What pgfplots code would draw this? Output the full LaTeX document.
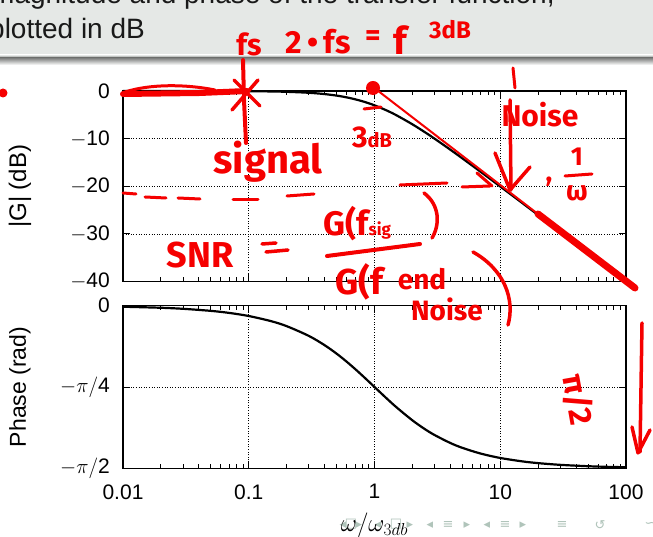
\documentclass[border=0pt]{standalone}
\usepackage{fontspec}
\setmainfont{Liberation Sans}
\newfontfamily\hand{Fira Sans}
\newfontfamily\sym{DejaVu Sans}
\usepackage{pgfplots}
\usepackage{pgfplotstable}
\pgfplotsset{compat=1.18}
\definecolor{hdr}{RGB}{229,232,230}
\definecolor{nav}{RGB}{176,196,186}
\definecolor{ink}{RGB}{245,0,0}
\newcommand{\hf}[1]{\hand\bfseries\fontsize{#1}{#1}\selectfont}

\pgfplotstableread{
x y
0.01 -0.0004
0.02 -0.0017
0.05 -0.0108
0.1 -0.0432
0.15 -0.0967
0.2 -0.1703
0.3 -0.374
0.4 -0.645
0.5 -0.969
0.6 -1.335
0.7 -1.734
0.8 -2.148
0.9 -2.577
1 -3.010
1.25 -4.087
1.5 -5.119
2 -6.990
2.5 -8.603
3 -10.000
4 -12.304
5 -14.150
7 -16.990
10 -20.043
15 -23.541
20 -26.031
30 -29.547
50 -33.981
70 -36.903
100 -40.000
}\magtable

\pgfplotstableread{
x y
0.01 -0.0100
0.02 -0.0200
0.03 -0.0300
0.05 -0.0500
0.07 -0.0699
0.1 -0.0997
0.15 -0.1489
0.2 -0.1974
0.3 -0.2915
0.4 -0.3805
0.5 -0.4636
0.6 -0.5404
0.7 -0.6107
0.8 -0.6747
0.9 -0.7328
1 -0.7854
1.25 -0.8961
1.5 -0.9828
2 -1.1071
2.5 -1.1903
3 -1.2490
4 -1.3258
5 -1.3734
7 -1.4289
10 -1.4711
15 -1.5042
20 -1.5208
30 -1.5375
50 -1.5508
70 -1.5565
100 -1.5608
}\phasetable

\begin{document}
\begin{tikzpicture}[x=1pt,y=1pt]
\path[use as bounding box] (0,0) rectangle (653,537);
\clip (0,0) rectangle (653,537);
\fill[white] (0,0) rectangle (653,537);
\fill[hdr] (0,482) rectangle (653,537);
\shade[top color=hdr, bottom color=hdr!55!black] (0,479) rectangle (653,482);
\shade[top color=hdr!55!black, bottom color=white] (0,472) rectangle (653,479);
\node[anchor=base west, inner sep=0, font=\fontsize{28}{28}\selectfont, text=black!90] at (-9,533) {magnitude and phase of the transfer function,};
\node[anchor=base west, inner sep=0, font=\fontsize{28}{28}\selectfont, text=black!90] at (-11,498) {plotted in dB};

% navigation symbols
\begin{scope}[nav, font=\sym\fontsize{13}{13}\selectfont]
\node at (343,12) {◂}; \node at (351,13) {□}; \node at (359,12) {▸};
\node at (378,12) {◂}; \node at (396,13) {□}; \node at (410,12) {▸};
\node at (430,12) {◂}; \node at (448,12) {≡}; \node at (467,12) {▸};
\node at (487,12) {◂}; \node at (505,12) {≡}; \node at (523,12) {▸};
\node at (562,12) {≡}; \node at (600,12) {↺}; \node at (650,12) {∽};
\end{scope}

\begin{axis}[xmode=log, xmin=0.01, xmax=100,
  scale only axis, width=503pt, height=190.5pt, anchor=south west,
  at={(123pt,255.5pt)},
  xtick={0.01,0.1,1,10,100}, xticklabels={},
  ymin=-40, ymax=0, ytick={-40,-30,-20,-10,0},
  yticklabels={$-$40,$-$30,$-$20,$-$10,0},
  grid=major,
  grid style={black, line width=0.5pt, dash pattern=on 1pt off 1.6pt},
  axis line style={line width=1.3pt},
  tick style={black, line width=0.8pt},
  major tick length=7pt, minor tick length=4pt,
  tick align=inside,
  tick label style={font=\fontsize{21}{21}\selectfont, inner sep=0pt},
  y tick label style={anchor=east, xshift=-13pt},
  ylabel={|G| (dB)},
  every axis y label/.style={at={(axis description cs:-0.2048,0.5)}, rotate=90, anchor=center, font=\fontsize{24}{24}\selectfont},
  clip=false]
\addplot[black, line width=2.2pt, smooth] table[x=x,y=y] {\magtable};
\addplot[ink, line width=2pt] coordinates {(1,0.6) (113.7,-41.2)};
\end{axis}

\begin{axis}[xmode=log, xmin=0.01, xmax=100,
  scale only axis, width=503pt, height=162.6pt, anchor=south west,
  at={(123pt,68.7pt)},
  xtick={0.01,0.1,1,10,100}, xticklabels={0.01,0.1,1,10,100},
  ymin=-1.5708, ymax=0, ytick={-1.5708,-0.7854,0},
  yticklabels={$-\pi/$2,$-\pi/$4,0},
  grid=major,
  grid style={black, line width=0.5pt, dash pattern=on 1pt off 1.6pt},
  axis line style={line width=1.3pt},
  tick style={black, line width=0.8pt},
  major tick length=7pt, minor tick length=4pt,
  tick align=inside,
  tick label style={font=\fontsize{21}{21}\selectfont, inner sep=0pt},
  y tick label style={anchor=east, xshift=-13pt},
  x tick label style={anchor=north, yshift=-16pt},
  ylabel={Phase (rad)},
  every axis y label/.style={at={(axis description cs:-0.2048,0.5)}, rotate=90, anchor=center, font=\fontsize{23}{23}\selectfont},
  xlabel={$\omega/\omega_{3db}$},
  every axis x label/.style={at={(axis description cs:0.5,0)}, anchor=base, yshift=-63.7pt, font=\fontsize{23}{23}\selectfont}]
\addplot[black, line width=2.2pt, smooth] table[x=x,y=y] {\phasetable};
\end{axis}

% handwritten annotations (pixel space)
\begin{scope}[yshift=537pt, yscale=-1, ink, line cap=round, line join=round]
\fill (3,93) circle (4.5);
\draw[line width=6] (123,94) -- (200,93) -- (247,91);
\draw[line width=3] (125,92) .. controls (150,84) and (185,84) .. (215,90);
\node[font=\hf{30}] at (249,44) {fs};
\draw[line width=4] (243,60) -- (244,100) -- (246,143);
\draw[line width=3.5] (234,80) -- (260,106);
\draw[line width=3.5] (258,80) -- (232,110);
\node[font=\hf{32}] at (318,42) {2\,\textbullet\,fs};
\node[font=\hf{30}] at (373,38) {=};
\node[font=\hf{38}] at (400,40) {f};
\node[font=\hf{24}] at (450,30) {3dB};
\draw[line width=3] (513,68) -- (515,88);
\fill (373,88) circle (7);
\draw[line width=3] (364,109) -- (381,107);
\node[font=\hf{30}] at (372,137) {3{\fontsize{20}{20}\selectfont dB}};
\node[font=\hf{30}] at (540,115) {Noise};
\draw[line width=3.5] (510,100) -- (511,190);
\draw[line width=3.5] (495,153) -- (510,190) -- (530,167);
\node[font=\hf{28}] at (549,182) {,};
\node[font=\hf{26}] at (577,157) {1};
\draw[line width=3] (565,176) -- (592,174);
\node[font=\hf{28}] at (577,193) {ω};
\node[font=\hf{40}] at (268,162) {signal};
\draw[line width=3] (123,193) -- (136,194);
\draw[line width=3] (145,197) -- (166,198);
\draw[line width=3] (178,198) -- (200,199);
\draw[line width=3] (233,200) -- (258,200);
\draw[line width=3] (287,196) -- (314,194);
\draw[line width=3] (400,185) -- (447,183);
\draw[line width=3] (462,187) -- (490,186);
\draw[line width=3] (477,173) -- (492,186);
\node[font=\hf{36}] at (200,255) {SNR};
\draw[line width=3.5] (262,244) -- (276,243);
\draw[line width=3.5] (266,252) -- (288,250);
\node[font=\hf{34}, anchor=west] at (320,224) {G(f{\fontsize{17}{17}\selectfont sig}};
\draw[line width=3.5] (424,193) .. controls (440,205) and (440,225) .. (432,238);
\draw[line width=4] (327,256) -- (420,244);
\node[font=\hf{36}, anchor=west] at (332,282) {G(f};
\node[font=\hf{28}] at (422,279) {end};
\draw[line width=3.5] (473,252) .. controls (505,270) and (515,300) .. (508,325);
\node[font=\hf{28}] at (447,309) {Noise};
\node[font=\hf{32}, rotate=-80] at (578,400) {π/2};
\draw[line width=3.5] (642,323) -- (640,452);
\draw[line width=3.5] (632,427) -- (638,453) -- (650,430);
\draw[line width=7] (538,214) -- (635,288);
\end{scope}
\end{tikzpicture}
\end{document}
